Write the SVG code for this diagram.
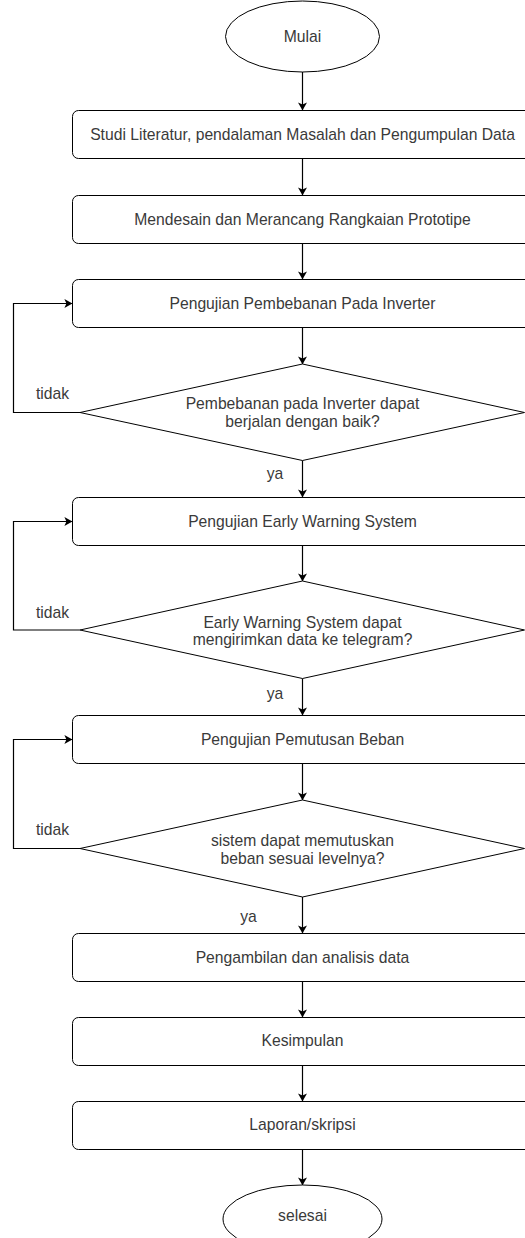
<svg xmlns="http://www.w3.org/2000/svg" width="525" height="1238" viewBox="0 0 525 1238">
<style>
.shape{fill:#ffffff;stroke:#000000;stroke-width:1}
.edge{fill:none;stroke:#000000;stroke-width:1.2;marker-end:url(#arr)}
text{font-family:"Liberation Sans",Arial,sans-serif;font-size:15.7px;fill:#3a3a3a}
.c{text-anchor:middle}
</style>
<defs>
<marker id="arr" viewBox="0 0 10 10" refX="9.5" refY="5" markerWidth="8" markerHeight="9" markerUnits="userSpaceOnUse" orient="auto" preserveAspectRatio="none">
<path d="M0,0 L10,5 L0,10 L2.5,5 z" fill="#000000"/>
</marker>
</defs>
<rect width="525" height="1238" fill="#ffffff"/>
<g id="connectors">
<path class="edge" d="M302.5,72 V110"/>
<path class="edge" d="M302.5,158.5 V195"/>
<path class="edge" d="M302.5,243.5 V279"/>
<path class="edge" d="M302.5,327.5 V364"/>
<path class="edge" d="M302.5,460.5 V497"/>
<path class="edge" d="M302.5,545.5 V581"/>
<path class="edge" d="M302.5,678.5 V715"/>
<path class="edge" d="M302.5,763.5 V800"/>
<path class="edge" d="M302.5,897 V933"/>
<path class="edge" d="M302.5,981.5 V1017"/>
<path class="edge" d="M302.5,1065.5 V1101"/>
<path class="edge" d="M302.5,1149.5 V1185"/>
<path class="edge" d="M80,412.5 H13.5 V303.5 H72"/>
<path class="edge" d="M80,630 H13.5 V521.5 H72"/>
<path class="edge" d="M80,848.5 H13.5 V739.5 H72"/>
<text x="52.5" y="399" class="c">tidak</text>
<text x="52.5" y="618" class="c">tidak</text>
<text x="52.5" y="835" class="c">tidak</text>
<text x="275" y="479" class="c">ya</text>
<text x="275" y="699" class="c">ya</text>
<text x="248.5" y="922" class="c">ya</text>
</g>
<g id="mulai">
<ellipse class="shape" cx="302.5" cy="36.5" rx="77" ry="35.5"/>
<text x="302.5" y="42" class="c">Mulai</text>
</g>
<g id="studi">
<rect class="shape" x="72.5" y="110.5" width="460" height="48" rx="6"/>
<text x="302.5" y="139.5" class="c">Studi Literatur, pendalaman Masalah dan Pengumpulan Data</text>
</g>
<g id="mendesain">
<rect class="shape" x="72.5" y="195.5" width="460" height="48" rx="6"/>
<text x="302.5" y="224.5" class="c">Mendesain dan Merancang Rangkaian Prototipe</text>
</g>
<g id="uji-inverter">
<rect class="shape" x="72.5" y="279.5" width="460" height="48" rx="6"/>
<text x="302.5" y="308.5" class="c">Pengujian Pembebanan Pada Inverter</text>
</g>
<g id="cek-inverter">
<polygon class="shape" points="302.5,364 524.5,412.5 302.5,460.5 80,412.5"/>
<text x="302.5" y="408.5" class="c">Pembebanan pada Inverter dapat</text>
<text x="302.5" y="426.5" class="c">berjalan dengan baik?</text>
</g>
<g id="uji-ews">
<rect class="shape" x="72.5" y="497.5" width="460" height="48" rx="6"/>
<text x="302.5" y="526.5" class="c">Pengujian Early Warning System</text>
</g>
<g id="cek-ews">
<polygon class="shape" points="302.5,581 524.5,630 302.5,678.5 80,630"/>
<text x="302.5" y="628" class="c">Early Warning System dapat</text>
<text x="302.5" y="645" class="c">mengirimkan data ke telegram?</text>
</g>
<g id="uji-pemutusan">
<rect class="shape" x="72.5" y="715.5" width="460" height="48" rx="6"/>
<text x="302.5" y="744.5" class="c">Pengujian Pemutusan Beban</text>
</g>
<g id="cek-pemutusan">
<polygon class="shape" points="302.5,800 524.5,848.5 302.5,897 80,848.5"/>
<text x="302.5" y="845.5" class="c">sistem dapat memutuskan</text>
<text x="302.5" y="863.5" class="c">beban sesuai levelnya?</text>
</g>
<g id="pengambilan">
<rect class="shape" x="72.5" y="933.5" width="460" height="48" rx="6"/>
<text x="302.5" y="962.5" class="c">Pengambilan dan analisis data</text>
</g>
<g id="kesimpulan">
<rect class="shape" x="72.5" y="1017.5" width="460" height="48" rx="6"/>
<text x="302.5" y="1046" class="c">Kesimpulan</text>
</g>
<g id="laporan">
<rect class="shape" x="72.5" y="1101.5" width="460" height="48" rx="6"/>
<text x="302.5" y="1130" class="c">Laporan/skripsi</text>
</g>
<g id="selesai">
<ellipse class="shape" cx="302.5" cy="1219" rx="79.5" ry="34"/>
<text x="302.5" y="1221" class="c">selesai</text>
</g>
</svg>
